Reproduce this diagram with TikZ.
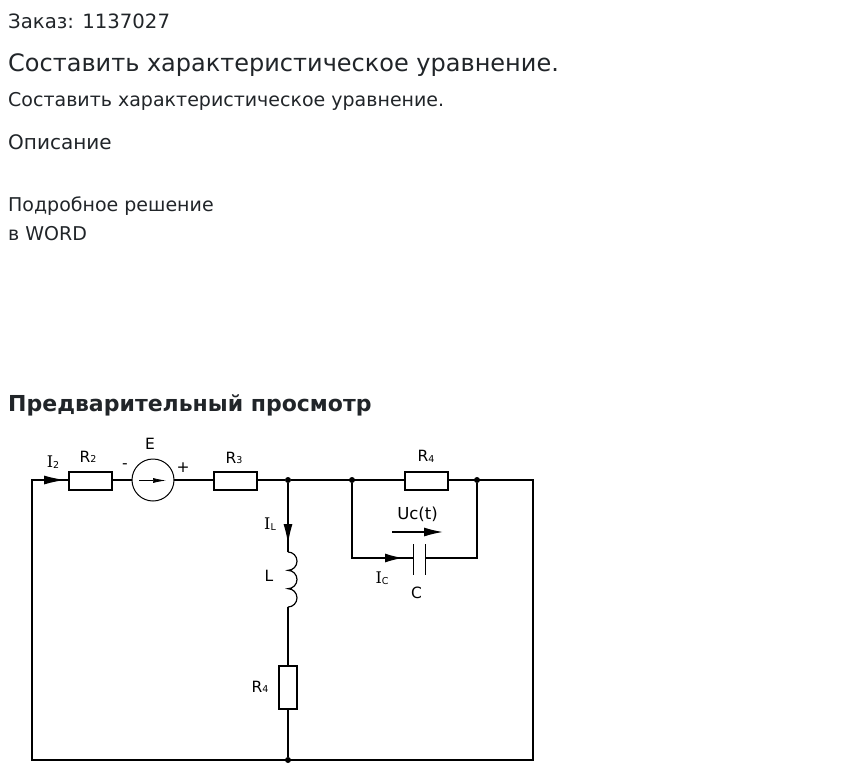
\documentclass[tikz,border=0pt]{standalone}
\usepackage{fontspec}
\setmainfont{DejaVu Sans}
\newfontfamily\slabfont{DejaVu Serif}
\usetikzlibrary{arrows.meta}
\definecolor{txt}{HTML}{212529}
\newcommand{\lbl}[2]{#1\raisebox{-0.5pt}{\fontsize{9.5}{10}\selectfont #2}}
\newcommand{\slabI}{{\slabfont\fontsize{16}{18}\selectfont I}}
\tikzset{
  x=1pt,y=-1pt,
  wire/.style={line width=1.4pt,line join=miter},
  res/.style={draw,line width=1.4pt,fill=white,inner sep=0pt},
  hres/.style={res,minimum width=43pt,minimum height=18pt},
  vres/.style={res,minimum width=18pt,minimum height=43pt},
  dot/.style={circle,fill=black,inner sep=0pt,minimum size=6pt},
  src/.style={circle,draw,line width=1pt,fill=white,inner sep=0pt,minimum size=42pt},
  para/.style={anchor=base west,inner sep=0pt,text=txt,font=\fontsize{19}{22}\selectfont},
  head/.style={anchor=base west,inner sep=0pt,text=txt},
  lab/.style={inner sep=0pt,text=black,font=\fontsize{15.5}{18}\selectfont},
  tip/.style={-{Latex[length=#1,width=9pt]},wire},
  plate/.style={line width=1.4pt}
}
\begin{document}
\begin{tikzpicture}
\useasboundingbox (0,0) rectangle (847,780);
\fill[white] (0,0) rectangle (847,780);
\node[para,font=\fontsize{19.7}{22}\selectfont] (t1) at (8,28) {Заказ: 1137027};
\node[head,font=\fontsize{24}{28}\selectfont] (t2) at (8,71) {Составить характеристическое уравнение.};
\node[para] (t3) at (8,106) {Составить характеристическое уравнение.};
\node[para,font=\fontsize{20}{24}\selectfont] (t4) at (8,149) {Описание};
\node[para] (t5) at (8,211) {Подробное решение};
\node[para] (t6) at (8,240) {в WORD};
\node[head,font=\bfseries\fontsize{22}{26}\selectfont] (t7) at (8,411) {Предварительный просмотр};

\coordinate (tl) at (32,480);
\coordinate (tr) at (533,480);
\coordinate (bl) at (32,760);
\coordinate (br) at (533,760);
\node[dot] (j1) at (288,480) {};
\node[dot] (j2) at (352,480) {};
\node[dot] (j3) at (477,480) {};
\node[dot] (j4) at (288,760) {};
\coordinate (cl) at (352,558);
\coordinate (cr) at (477,558);
\coordinate (p1) at (413.5,558);
\coordinate (p2) at (425.5,558);
\coordinate (lt) at (288,552);
\coordinate (lb) at (288,607);

\draw[wire] (j1) -- (tl) -- (bl) -- (br) -- (tr) -- (j1);
\draw[wire] (j1) -- (lt);
\draw[wire] (lb) -- (j4);
\draw[wire] (j2) -- (cl) -- (p1);
\draw[wire] (j3) -- (cr) -- (p2);
\draw[line width=1.2pt] (lt)
  arc[start angle=-90,end angle=90,x radius=9pt,y radius=-9.17pt]
  arc[start angle=-90,end angle=90,x radius=9pt,y radius=-9.17pt]
  arc[start angle=-90,end angle=90,x radius=9pt,y radius=-9.17pt];

\node[hres] (r2) at (90.5,481) {};
\node[src] (e) at (153,480) {};
\node[hres] (r3) at (235.5,481) {};
\node[hres] (r4a) at (426.5,481) {};
\node[vres] (r4b) at (288,687.5) {};

\draw[plate] (413.5,544) -- (413.5,575);
\draw[plate] (425.5,544) -- (425.5,575);

\coordinate (a1s) at (44,480); \coordinate (a1e) at (65,480);
\draw[tip=21pt] (a1s) -- (a1e);
\coordinate (a2s) at (288,524); \coordinate (a2e) at (288,544);
\draw[tip=20pt] (a2s) -- (a2e);
\coordinate (a3s) at (385,558); \coordinate (a3e) at (403,558);
\draw[tip=18pt] (a3s) -- (a3e);
\coordinate (a4s) at (392,532); \coordinate (a4e) at (443,532);
\draw[tip=19pt] (a4s) -- (a4e);
\coordinate (a5s) at (139,480.5); \coordinate (a5e) at (166,480.5);
\draw[-{Latex[length=13pt,width=5pt]},line width=0.7pt] (a5s) -- (a5e);

\node[lab] (li2) at (53,462) {\lbl{\slabI}{2}};
\node[lab] (lr2) at (88,457) {\lbl{R}{2}};
\node[lab] (le) at (150,444) {E};
\node[lab] (lm) at (125,466) {-};
\node[lab] (lp) at (183,468) {+};
\node[lab] (lr3) at (234,458) {\lbl{R}{3}};
\node[lab] (lr4a) at (426,456.5) {\lbl{R}{4}};
\node[lab] (lil) at (270,524) {\lbl{\slabI}{L}};
\node[lab] (ll) at (269,576) {L};
\node[lab] (lr4b) at (260,687) {\lbl{R}{4}};
\node[lab,font=\fontsize{16.5}{18}\selectfont] (luc) at (417.5,514) {Uc(t)};
\node[lab] (lic) at (382,578) {\lbl{\slabI}{C}};
\node[lab] (lc) at (416.5,593) {C};
\end{tikzpicture}
\end{document}
